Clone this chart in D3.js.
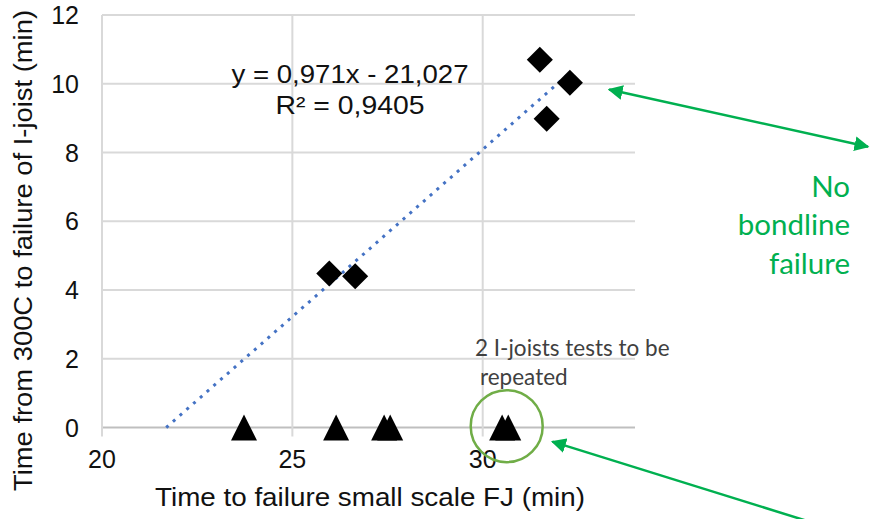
<!DOCTYPE html>
<html>
<head>
<meta charset="utf-8">
<script src="https://cdn.jsdelivr.net/npm/d3@7"></script>
<style>
  body { margin: 0; background: #fff; }
  svg { display: block; }
</style>
</head>
<body>
<div id="chart"></div>
<script>
// values
const xTicks = [20, 25, 30];
const yTicks = [0, 2, 4, 6, 8, 10, 12];

// I-joists with bondline failure (diamonds)
const diamondX = [31.50, 32.29, 31.68, 25.97, 26.65];
const diamondY = [10.70, 10.03, 8.98, 4.48, 4.40];

// I-joists without failure time (triangles at 0)
const triangleX = [23.73, 26.15, 27.41, 27.57, 30.51, 30.67];
const triangleY = [0, 0, 0, 0, 0, 0];

const equationLines = ["y = 0,971x - 21,027", "R² = 0,9405"];
const noteLines = ["2 I-joists tests to be", "repeated"];
const sideLines = ["No", "bondline", "failure"];

const width = 879;
const height = 519;

const svg = d3.select("#chart")
  .append("svg")
  .attr("width", width)
  .attr("height", height);

svg.append("rect").attr("width", width).attr("height", height).attr("fill", "#fff");

const x = d3.scaleLinear().domain([20, 34]).range([102, 635]);
const y = d3.scaleLinear().domain([0, 12]).range([427.5, 15]);

const axisFont = "'Liberation Sans', Arial, sans-serif";
const noteFont = "Lato, 'Open Sans', sans-serif";

// horizontal gridlines
svg.append("g")
  .selectAll("line")
  .data(yTicks)
  .enter()
  .append("line")
  .attr("x1", x(20))
  .attr("x2", x(34))
  .attr("y1", d => y(d))
  .attr("y2", d => y(d))
  .attr("stroke", d => d === 0 ? "#bfbfbf" : "#d9d9d9")
  .attr("stroke-width", 2);

// vertical gridlines (run down past the axis as tick marks)
svg.append("g")
  .selectAll("line")
  .data(xTicks)
  .enter()
  .append("line")
  .attr("x1", d => x(d))
  .attr("x2", d => x(d))
  .attr("y1", y(12))
  .attr("y2", y(0) + 9)
  .attr("stroke", "#d9d9d9")
  .attr("stroke-width", 2);

// tick labels
svg.append("g")
  .selectAll("text")
  .data(yTicks)
  .enter()
  .append("text")
  .attr("x", 79)
  .attr("y", d => y(d))
  .attr("dy", "0.36em")
  .attr("text-anchor", "end")
  .style("font-family", axisFont)
  .style("font-size", "25px")
  .attr("fill", "#111")
  .text(d => d);

svg.append("g")
  .selectAll("text")
  .data(xTicks)
  .enter()
  .append("text")
  .attr("x", d => x(d))
  .attr("y", 468)
  .attr("text-anchor", "middle")
  .style("font-family", axisFont)
  .style("font-size", "25px")
  .attr("fill", "#111")
  .text(d => d);

// axis titles
svg.append("text")
  .attr("x", 155)
  .attr("y", 506)
  .attr("textLength", 430)
  .attr("lengthAdjust", "spacingAndGlyphs")
  .style("font-family", axisFont)
  .style("font-size", "26px")
  .attr("fill", "#111")
  .text("Time to failure small scale FJ (min)");

svg.append("text")
  .attr("transform", "translate(32,491) rotate(-90)")
  .attr("textLength", 481)
  .attr("lengthAdjust", "spacingAndGlyphs")
  .style("font-family", axisFont)
  .style("font-size", "26px")
  .attr("fill", "#111")
  .text("Time from 300C to failure of I-joist (min)");

// linear trendline fitted on the diamonds
const mx = d3.mean(diamondX), my = d3.mean(diamondY);
const slope = d3.sum(diamondX, (d, i) => (d - mx) * (diamondY[i] - my)) /
              d3.sum(diamondX, d => (d - mx) * (d - mx));
const intercept = my - slope * mx;
const xStart = -intercept / slope; // clipped where it crosses y = 0
const xEnd = d3.max(diamondX);

svg.append("line")
  .attr("x1", x(xStart))
  .attr("y1", y(slope * xStart + intercept))
  .attr("x2", x(xEnd))
  .attr("y2", y(slope * xEnd + intercept))
  .attr("stroke", "#4472c4")
  .attr("stroke-width", 3)
  .attr("stroke-dasharray", "3 6");

// markers
const diamonds = diamondX.map((d, i) => ({x: d, y: diamondY[i]}));
const triangles = triangleX.map((d, i) => ({x: d, y: triangleY[i]}));

svg.append("g")
  .selectAll("path")
  .data(diamonds)
  .enter()
  .append("path")
  .attr("d", d3.symbol().type(d3.symbolSquare).size(340))
  .attr("transform", d => `translate(${x(d.x)},${y(d.y)}) rotate(45)`)
  .attr("fill", "#000");

const tri = {
  draw(context, size) {
    const r = Math.sqrt(size) / 2;
    context.moveTo(0, -r);
    context.lineTo(r, r);
    context.lineTo(-r, r);
    context.closePath();
  }
};

svg.append("g")
  .selectAll("path")
  .data(triangles)
  .enter()
  .append("path")
  .attr("d", d3.symbol().type(tri).size(676))
  .attr("transform", d => `translate(${x(d.x)},${y(d.y)})`)
  .attr("fill", "#000");

// trendline label
const eqWidths = [237, 149];
svg.append("g")
  .selectAll("text")
  .data(equationLines)
  .enter()
  .append("text")
  .attr("x", (d, i) => 350 - eqWidths[i] / 2)
  .attr("y", (d, i) => 83 + i * 30.5)
  .attr("textLength", (d, i) => eqWidths[i])
  .attr("lengthAdjust", "spacingAndGlyphs")
  .style("font-family", axisFont)
  .style("font-size", "26px")
  .attr("fill", "#111")
  .text(d => d);

// annotations
const green = "#00b050";
const defs = svg.append("defs");
defs.append("marker")
  .attr("id", "head")
  .attr("viewBox", "0 0 10 10")
  .attr("refX", 9)
  .attr("refY", 5)
  .attr("markerWidth", 6)
  .attr("markerHeight", 6)
  .attr("markerUnits", "strokeWidth")
  .attr("orient", "auto-start-reverse")
  .append("path")
  .attr("d", "M0,0 L10,5 L0,10 z")
  .attr("fill", green);

// double arrow to "No bondline failure"
svg.append("line")
  .attr("x1", x(33.32)).attr("y1", y(9.83))
  .attr("x2", x(40.12)).attr("y2", y(8.17))
  .attr("stroke", green)
  .attr("stroke-width", 2.5)
  .attr("marker-start", "url(#head)")
  .attr("marker-end", "url(#head)");

// arrow to the circled triangles
svg.append("line")
  .attr("x1", x(38.7)).attr("y1", y(-2.78))
  .attr("x2", x(31.83)).attr("y2", y(-0.41))
  .attr("stroke", green)
  .attr("stroke-width", 2.5)
  .attr("marker-end", "url(#head)");

svg.append("circle")
  .attr("cx", x(30.63))
  .attr("cy", y(0.04))
  .attr("r", 36)
  .attr("fill", "none")
  .attr("stroke", "#70ad47")
  .attr("stroke-width", 2.5);

svg.append("g")
  .selectAll("text")
  .data(noteLines)
  .enter()
  .append("text")
  .attr("x", (d, i) => i === 0 ? 475 : 480)
  .attr("y", (d, i) => 356 + i * 29)
  .style("font-family", noteFont)
  .style("font-size", "22.5px")
  .attr("fill", "#404040")
  .text(d => d);

svg.append("g")
  .selectAll("text")
  .data(sideLines)
  .enter()
  .append("text")
  .attr("x", 850)
  .attr("y", (d, i) => 197 + i * 38.3)
  .attr("text-anchor", "end")
  .style("font-family", noteFont)
  .style("font-size", "29.5px")
  .attr("fill", green)
  .text(d => d);
</script>
</body>
</html>
